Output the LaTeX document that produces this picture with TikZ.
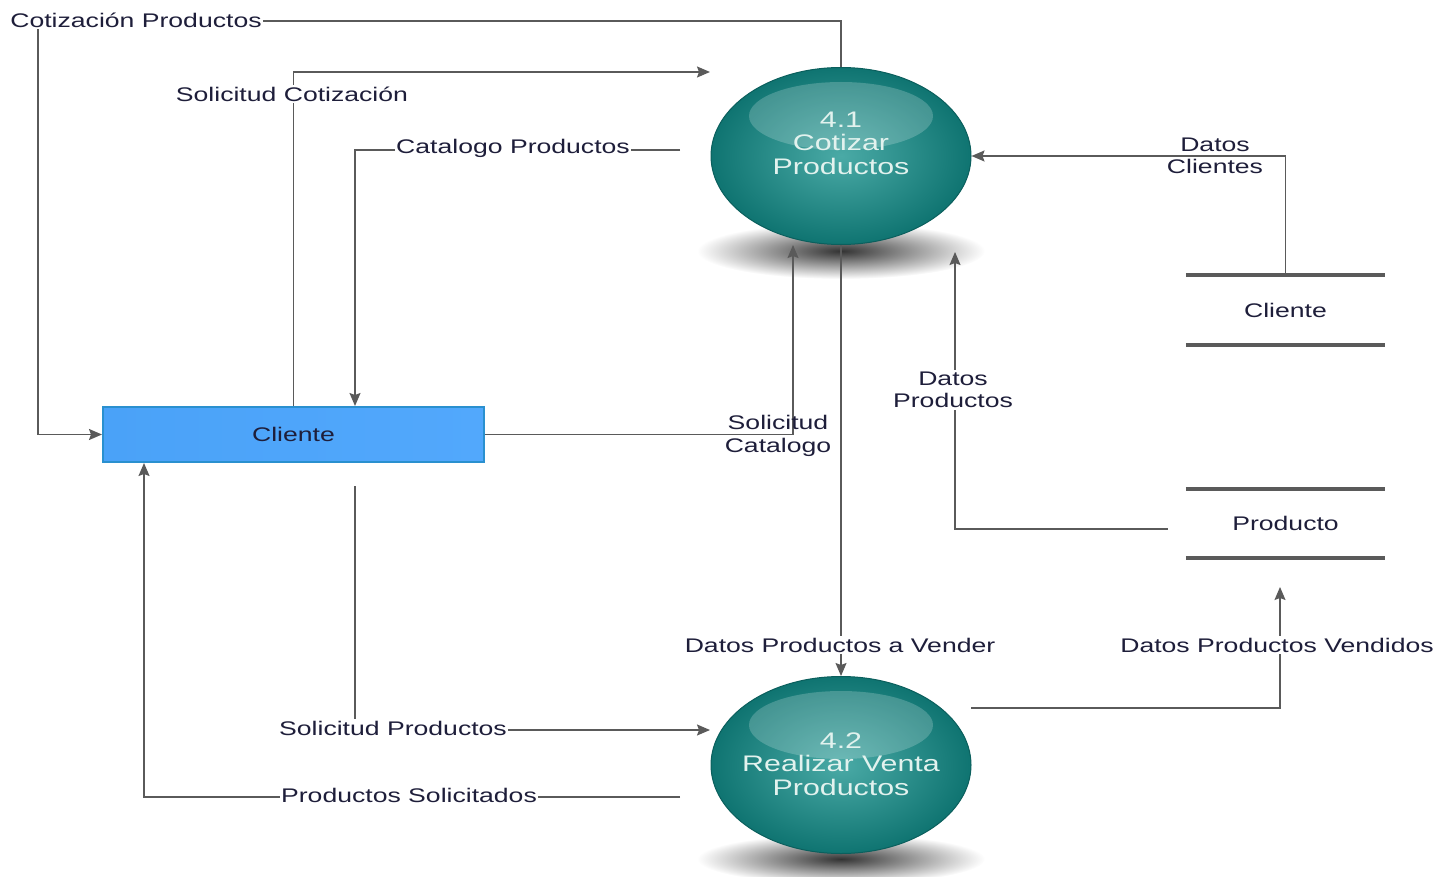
\documentclass[tikz,border=0pt]{standalone}
\usepackage{fontspec}
\setmainfont{Liberation Sans}[FakeStretch=1.35]
\usetikzlibrary{shapes.geometric,arrows.meta}
\definecolor{txt}{HTML}{1E1E3A}
\definecolor{linec}{HTML}{5A5A5A}
\definecolor{tealin}{HTML}{4AAAA6}
\definecolor{tealout}{HTML}{0F7471}
\definecolor{tealrim}{HTML}{0B5F5D}
\definecolor{boxl}{HTML}{4AA2F8}
\definecolor{boxm}{HTML}{68B5FF}
\definecolor{boxr}{HTML}{52A8FC}
\definecolor{boxrim}{HTML}{2A90CF}
\definecolor{proctxt}{HTML}{E2F2EE}
\begin{document}
\begin{tikzpicture}[x=1pt,y=-1pt,
  every node/.style={font=\fontsize{19.7}{22.5}\selectfont, text=txt},
  flow/.style={draw=linec, line width=1.5pt, -{Stealth[length=13pt,width=11pt,inset=2pt]}},
  lbl/.style={fill=white, inner sep=1.5pt, align=center},
  lblclear/.style={inner sep=1pt, align=center},
  proc/.style={ellipse, minimum width=260pt, minimum height=177pt, inner sep=0pt,
    draw=tealrim, line width=1pt, inner color=tealin, outer color=tealout,
    path picture={\fill[white,opacity=0.2] ([yshift=40pt]path picture bounding box.center) ellipse (92pt and 34pt);}},
  proctext/.style={align=center, text=proctxt, font=\fontsize{22.5}{23.5}\selectfont},
  extent/.style={rectangle, minimum width=381pt, minimum height=55pt, draw=boxrim, line width=2pt,
    left color=boxl, middle color=boxm, right color=boxr},
  storebox/.style={rectangle, minimum width=199pt, inner sep=0pt},
  storeline/.style={draw=linec, line width=4pt}
]
\useasboundingbox (0,0) rectangle (1439,877);

% shadows
\shade[inner color=black!80, outer color=white] (841,251) ellipse (144pt and 28pt);
\shade[inner color=black!80, outer color=white] (841,859) ellipse (144pt and 25pt);

% processes
\node[proc] (p1) at (841,156) {};
\node[proctext] (p1t) at (841,143) {4.1\\Cotizar\\Productos};
\node[proc] (p2) at (841,765) {};
\node[proctext] (p2t) at (841,764) {4.2\\Realizar Venta\\Productos};

% external entity
\node[extent] (box) at (293.5,434.5) {Cliente};

% data stores
\node[storebox, minimum height=70pt] (s1) at (1285.5,310) {Cliente};
\draw[storeline] (s1.north west) -- (s1.north east);
\draw[storeline] (s1.south west) -- (s1.south east);
\node[storebox, minimum height=69pt] (s2) at (1285.5,523.5) {Producto};
\draw[storeline] (s2.north west) -- (s2.north east);
\draw[storeline] (s2.south west) -- (s2.south east);

% free ends
\coordinate (e2) at (710,72);
\coordinate (c3) at (680,150);
\coordinate (e6) at (710,730);
\coordinate (c7) at (680,797);
\coordinate (e9) at (955,252);
\coordinate (c10) at (971,708);
\coordinate (e10) at (1280,587);

% connectors
\draw[flow] (p1.north) |- (38,21) |- (box.west);
\node[lbl] (l1) at (136,20) {Cotización Productos};

\draw[flow] (box.north) |- (e2);
\node[lbl] (l2) at (292,94) {Solicitud Cotización};

\draw[flow] (c3) -| ([xshift=61.5pt]box.north);
\node[lbl] (l3) at (513,148) {Catalogo Productos};

\draw[flow] (box.east) -| ([xshift=-48pt]p1.south);
\node[lblclear] (l4) at (778,436) {Solicitud\\Catalogo};

\draw[flow] (p1.south) -- (p2.north);
\node[lbl] (l5) at (840,645) {Datos Productos a Vender};

\draw[flow, shorten <=23pt] ([xshift=61.5pt]box.south) |- (e6);
\node[lbl] (l6) at (393,728) {Solicitud Productos};

\draw[flow] (c7) -| ([xshift=-149.5pt]box.south);
\node[lbl] (l7) at (409,795) {Productos Solicitados};

\draw[flow] (s1.north) |- (p1.east);
\node[lblclear] (l8) at (1215,156) {Datos\\Clientes};

\draw[flow] ([shift={(-18,5.5)}]s2.west) -| (e9);
\node[lbl] (l9) at (953,390) {Datos\\Productos};

\draw[flow] (c10) -| (e10);
\node[lbl] (l10) at (1277,645) {Datos Productos Vendidos};
\end{tikzpicture}
\end{document}
